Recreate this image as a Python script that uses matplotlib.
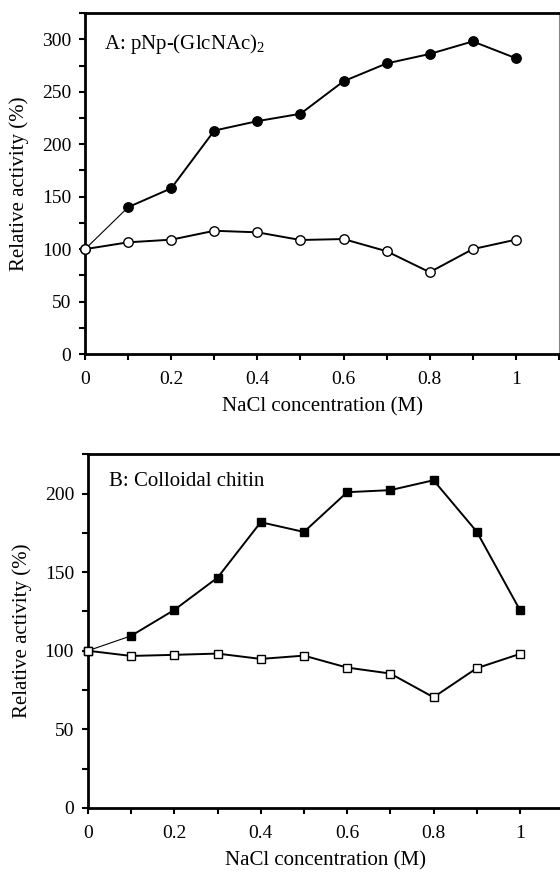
import matplotlib
matplotlib.use("Agg")
import matplotlib.pyplot as plt
from matplotlib.ticker import MultipleLocator, FuncFormatter

plt.rcParams['font.family'] = ['Liberation Serif', 'DejaVu Serif']
plt.rcParams['mathtext.fontset'] = 'custom'
plt.rcParams['mathtext.rm'] = 'Liberation Serif'

nacl = [0, 0.1, 0.2, 0.3, 0.4, 0.5, 0.6, 0.7, 0.8, 0.9, 1.0]
a_filled = [100, 140, 158, 213, 222, 229, 260, 277, 286, 298, 282]
a_open = [100, 106.5, 109, 117.5, 116, 108.7, 109.6, 98, 78, 100, 109]
b_filled = [100, 109.5, 126, 146.5, 181.8, 175.6, 200.9, 202.2, 208.5, 175.8, 125.9]
b_open = [100, 96.7, 97.4, 98.2, 94.8, 96.9, 89.3, 85.5, 70.4, 88.9, 98]

fig = plt.figure(figsize=(5.6, 8.72), dpi=100)
axA = fig.add_axes([0.152, 0.594, 0.846, 0.391])
axB = fig.add_axes([0.157, 0.0735, 0.8486, 0.4055])

def fmt_x(v, pos):
    if abs(v) < 1e-9:
        return "0"
    if abs(v - 1) < 1e-9:
        return "1"
    return f"{v:.1f}"

def style(ax, ymax, ytick_major, ytick_minor, right_visible):
    ax.set_xlim(0, 1.1)
    ax.set_ylim(0, ymax)
    ax.xaxis.set_major_locator(MultipleLocator(0.2))
    ax.xaxis.set_minor_locator(MultipleLocator(0.1))
    ax.xaxis.set_major_formatter(FuncFormatter(fmt_x))
    ax.yaxis.set_major_locator(MultipleLocator(ytick_major))
    ax.yaxis.set_minor_locator(MultipleLocator(ytick_minor))
    ax.tick_params(which='both', direction='out', width=1.5, labelsize=14, pad=6)
    ax.tick_params(which='major', length=4)
    ax.tick_params(which='minor', length=4)
    ax.tick_params(axis='x', pad=8)
    for s in ['left', 'bottom', 'top']:
        ax.spines[s].set_linewidth(2.0)
        ax.spines[s].set_color('black')
    ax.spines['right'].set_linewidth(0.8)
    ax.spines['right'].set_color('#888888')
    ax.spines['right'].set_visible(right_visible)
    ax.set_xlabel("NaCl concentration (M)", fontsize=15, labelpad=7)
    ax.set_ylabel("Relative activity (%)", fontsize=15, labelpad=9)

def draw(ax, x, y, marker, filled, ms):
    fc = 'black' if filled else 'white'
    lw_first = 0.8 if filled else 1.4
    ax.plot(x[:2], y[:2], '-', color='black', lw=lw_first, zorder=2)
    ax.plot(x[1:], y[1:], '-', color='black', lw=1.4, zorder=2)
    ax.plot(x, y, linestyle='none', marker=marker, ms=ms, mfc=fc,
            mec='black', mew=1.0, zorder=3 if filled else 4, clip_on=False)

draw(axA, nacl, a_filled, 'o', True, 6.8)
draw(axA, nacl, a_open, 'o', False, 6.8)
style(axA, 325, 50, 25, True)
axA.text(0.043, 296, r"A: pNp-(GlcNAc)$_2$", fontsize=15, va='center', ha='left')

draw(axB, nacl, b_filled, 's', True, 6.3)
draw(axB, nacl, b_open, 's', False, 6.3)
style(axB, 225, 50, 25, False)
axB.text(0.049, 208, "B: Colloidal chitin", fontsize=15, va='center', ha='left')

fig.savefig("out.png", dpi=100)
